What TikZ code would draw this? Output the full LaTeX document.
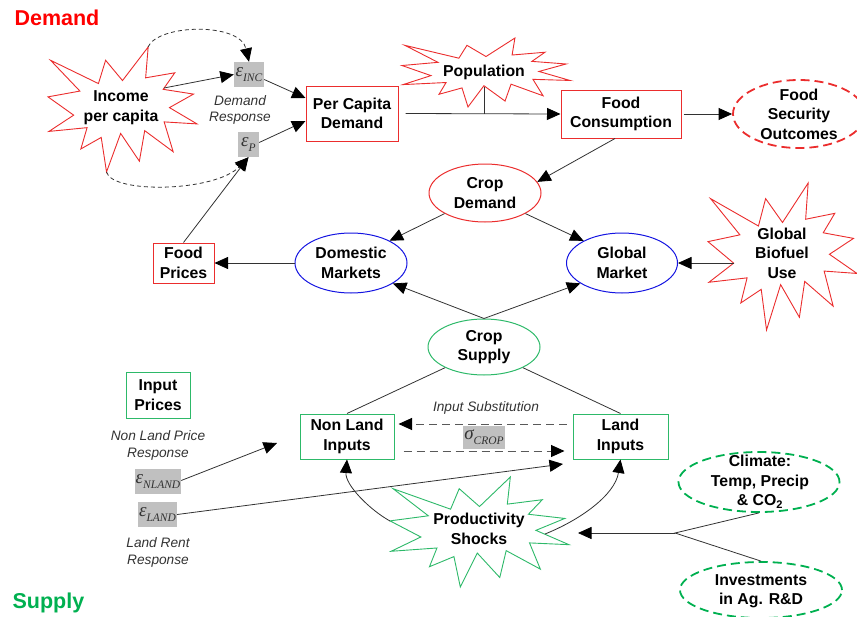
\documentclass[tikz,border=0pt]{standalone}
\usepackage{fontspec}
\setmainfont{Liberation Sans}
\newfontfamily\serifgr{Liberation Serif}
\usetikzlibrary{shapes.geometric,arrows.meta,calc}
\definecolor{rline}{RGB}{235,45,45}
\definecolor{gline}{RGB}{45,185,105}
\definecolor{gdash}{RGB}{0,176,80}
\definecolor{bline}{RGB}{20,20,225}
\definecolor{gfill}{RGB}{192,192,192}
\definecolor{cline}{RGB}{50,50,50}
\definecolor{tred}{RGB}{255,0,0}
\definecolor{tgreen}{RGB}{0,176,80}
\newcommand\explo[5]{\draw[#5, fill=white, line width=0.9pt, line join=miter, shift={(#1,#2)}, xscale=#3/216, yscale=#4/216]
 (108,58) -- (145.22,0) -- (141.55,53.25) -- (183.80,44.57) -- (167.02,73.15) -- (210.97,81.37) -- (176.07,104.75) -- (216,132.90) -- (168.37,129.42) -- (181.45,180.95) -- (140.20,144.57) -- (132.47,197.37) -- (105.32,149.35) -- (84.85,216) -- (77.15,156.27) -- (47.62,176.17) -- (56.67,139.37) -- (1.35,145.87) -- (37.22,117.75) -- (0,86.15) -- (46.27,76.17) -- (3.70,22.95) -- (73.12,63.20) -- (83.52,22.95) -- cycle;}
\newcommand\gsub[2]{#1\raisebox{-5pt}{\fontsize{11.5}{11.5}\selectfont #2}}
\begin{document}
\begin{tikzpicture}[x=1pt,y=-1pt,
 lbl/.style={font=\fontsize{15.8}{19.5}\selectfont\bfseries, align=center, text=black},
 rbox/.style={lbl, draw=rline, line width=1pt, inner sep=0pt},
 gbox/.style={lbl, draw=gline, line width=1pt, inner sep=0pt},
 oval/.style={ellipse, line width=1pt, inner sep=0pt},
 dov/.style={oval, line width=1.8pt, dash pattern=on 9pt off 5pt},
 itl/.style={font=\fontsize{13.7}{16.5}\selectfont\itshape, align=center, text=black!80},
 grk/.style={fill=gfill, inner sep=0pt, font=\serifgr\itshape\fontsize{19}{19}\selectfont, text=black!80},
 conn/.style={draw=cline, line width=0.8pt, -{Triangle[length=13.5pt,width=12pt,color=black]}},
 plain/.style={draw=cline, line width=0.8pt},
 dconn/.style={conn, dash pattern=on 4pt off 3pt},
 dsub/.style={conn, draw=black!65, line width=1pt, dash pattern=on 8pt off 5pt},
 ttl/.style={font=\fontsize{21.5}{24}\selectfont\bfseries, anchor=base west}]
\useasboundingbox (0,0) rectangle (857,616);

% starbursts
\explo{48}{47}{149}{125}{draw=rline}
\explo{402}{38}{168}{69}{draw=rline}
\explo{708}{183}{149}{147}{draw=rline}
\explo{390}{477}{179}{110}{draw=gline}

% titles
\node[ttl, text=tred] (tdem) at (11,25) {Demand};
\node[ttl, text=tgreen] (tsup) at (9,608) {Supply};

% starburst texts
\node[lbl] (inc) at (121,107.5) {Income\\per capita};
\node[lbl] (pop) at (484,72) {Population};
\node[lbl] (bio) at (782,253) {Global\\Biofuel\\Use};
\node[lbl] (prod) at (479,529) {Productivity\\Shocks};

% boxes
\node[rbox, minimum width=92pt, minimum height=55pt] (pcd) at (352,113.5) {Per Capita\\Demand};
\node[rbox, minimum width=120pt, minimum height=48pt] (fc) at (621,114) {Food\\Consumption};
\node[rbox, minimum width=61pt, minimum height=40pt] (fp) at (183.5,263) {Food\\Prices};
\node[gbox, minimum width=64pt, minimum height=46pt] (ip) at (158,395) {Input\\Prices};
\node[gbox, minimum width=94pt, minimum height=45pt] (nl) at (347,436.5) {Non Land\\Inputs};
\node[gbox, minimum width=95pt, minimum height=45pt] (li) at (620.5,436.5) {Land\\Inputs};

% ellipses
\node[dov, draw=rline, minimum width=132pt, minimum height=68pt] (fso) at (799,114) {};
\node[lbl] (fsoT) at (799,114) {Food\\Security\\Outcomes};
\node[oval, draw=rline, minimum width=112pt, minimum height=58pt] (cd) at (485,193) {};
\node[lbl] (cdT) at (485,193) {Crop\\Demand};
\node[oval, draw=bline, minimum width=112pt, minimum height=60pt] (dm) at (351,263) {};
\node[lbl] (dmT) at (351,263) {Domestic\\Markets};
\node[oval, draw=bline, minimum width=111pt, minimum height=60pt] (gm) at (622,263) {};
\node[lbl] (gmT) at (622,263) {Global\\Market};
\node[oval, draw=gline, minimum width=112pt, minimum height=56pt] (cs) at (484,347) {};
\node[lbl] (csT) at (484,347) {Crop\\Supply};
\node[dov, draw=gdash, minimum width=161pt, minimum height=60pt] (clim) at (759,482) {};
\node[lbl] (climT) at (760,482) {Climate:\\Temp, Precip\\\& CO\textsubscript{2}};
\node[dov, draw=gdash, minimum width=162pt, minimum height=56pt] (inv) at (761,590) {};
\node[lbl] (invT) at (761,591) {Investments\\in Ag. R\&D};

% greek boxes
\node[grk, minimum width=30pt, minimum height=25pt] (einc) at (249,74.5) {\gsub{ε}{INC}};
\node[grk, minimum width=21pt, minimum height=25pt] (ep) at (248.5,144.5) {\gsub{ε}{P}};
\node[grk, minimum width=46pt, minimum height=25pt] (enl) at (158,481.5) {\gsub{ε}{NLAND}};
\node[grk, minimum width=39pt, minimum height=25pt] (eld) at (157.5,514.5) {\gsub{ε}{LAND}};
\node[grk, minimum width=42pt, minimum height=23pt] (sig) at (484,437.5) {\gsub{σ}{CROP}};

% italic labels
\node[itl] (dr) at (240,110) {Demand\\Response};
\node[itl] (isub) at (486,408) {Input Substitution};
\node[itl] (nlpr) at (158,445.5) {Non Land Price\\Response};
\node[itl] (lrr) at (158,552.5) {Land Rent\\Response};

% coordinates for free ends
\coordinate (incR) at (164,88);
\coordinate (incT) at (148,47);
\coordinate (incB) at (106.5,172);
\coordinate (popB) at (484,87);
\coordinate (popJ) at (484,113.5);
\coordinate (bioL) at (733.7,263);
\coordinate (nlT) at (277,443);
\coordinate (liT) at (563,464);
\coordinate (prodL) at (390,521);
\coordinate (prodR) at (545,534);
\coordinate (cj) at (675,533);
\coordinate (prodT) at (578,533);

% demand connectors
\draw[conn] (incR) -- (einc.west);
\draw[dconn] (incT) .. controls (158,24) and (240,22) .. (einc.north);
\draw[dconn] (incB) .. controls (112,194) and (215,192) .. (ep.south);
\draw[conn] ([yshift=-5pt]einc.east) -- ([yshift=15.5pt]pcd.west);
\draw[conn] ([yshift=2pt]ep.east) -- ([yshift=-7.5pt]pcd.west);
\draw[conn] (fp.north) -- (ep.south);
\draw[conn] ([xshift=7pt]pcd.east) -- (fc.west);
\draw[plain] (popB) -- (popJ);
\draw[conn] ([xshift=2pt]fc.east) -- (fso.west);
\draw[conn] ([xshift=-6pt]fc.south) -- (cd.12);
\draw[conn] (cd.207) -- (dm.30);
\draw[conn] (cd.333) -- (gm.150);
\draw[conn] (dm.west) -- (fp.east);
\draw[conn] (bioL) -- (gm.east);

% supply connectors
\draw[conn] (cs.north) -- (dm.334);
\draw[conn] (cs.north) -- (gm.206);
\draw[plain] (cs.208) -- (nl.north);
\draw[plain] (cs.332) -- (li.north);
\draw[dsub] ([shift={(-6,-12.5)}]li.west) -- ([shift={(4,-12.5)}]nl.east);
\draw[dsub] ([shift={(9,14.5)}]nl.east) -- ([shift={(-8,14.5)}]li.west);
\draw[conn] ([yshift=1pt]enl.east) -- (nlT);
\draw[conn] (eld.east) -- (liT);
\draw[conn] (prodL) .. controls (370,510) and (345,485) .. (nl.south);
\draw[conn] (prodR) .. controls (580,520) and (615,495) .. (li.south);
\draw[plain] (clim.south) -- (cj) -- (inv.north);
\draw[conn] (cj) -- (prodT);
\end{tikzpicture}
\end{document}
